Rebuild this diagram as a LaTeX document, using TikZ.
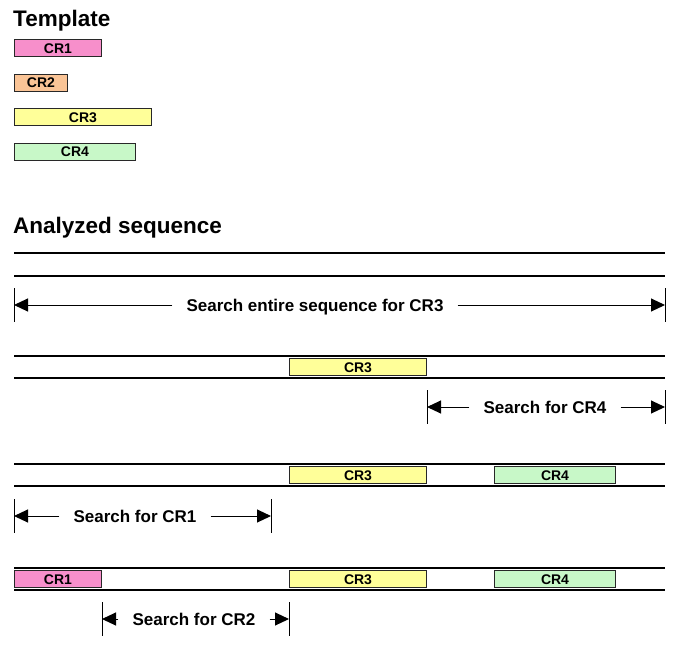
\documentclass[tikz,border=0pt]{standalone}
\usepackage{fontspec}
\setmainfont{Liberation Sans}
\usetikzlibrary{arrows.meta, positioning, calc}
\definecolor{crpink}{RGB}{247,143,203}
\definecolor{crorange}{RGB}{250,196,150}
\definecolor{cryellow}{RGB}{255,255,153}
\definecolor{crgreen}{RGB}{200,248,200}
\definecolor{boxedge}{RGB}{40,40,40}
\tikzset{
  crbox/.style={rectangle, draw=boxedge, line width=1pt, minimum height=17pt,
    inner sep=0pt, anchor=west, text height=10pt, text depth=0pt,
    font=\fontsize{14}{14}\selectfont\bfseries},
  cronebox/.style={crbox, fill=crpink, minimum width=87pt},
  crtwobox/.style={crbox, fill=crorange, minimum width=53pt},
  crthreebox/.style={crbox, fill=cryellow, minimum width=137pt},
  crfourbox/.style={crbox, fill=crgreen, minimum width=121pt},
  headline/.style={anchor=base west, inner sep=0pt,
    font=\fontsize{22.5}{22.5}\selectfont\bfseries},
  seqline/.style={line width=1.5pt},
  tickline/.style={line width=1pt},
  searcharrow/.style={-{Triangle[length=14pt, width=13pt]}, line width=1pt},
  searchlabel/.style={inner xsep=14pt, inner ysep=0pt, text height=12pt,
    text depth=0pt, font=\fontsize{17}{17}\selectfont\bfseries},
}

\begin{document}
\begin{tikzpicture}[x=1pt, y=-1pt]
  \useasboundingbox (0,0) rectangle (685,656);

  % template
  \node[headline] (tmpltitle) at (13,26) {Template};
  \node[cronebox]   (tcr1) at (14,48)    {CR1};
  \node[crtwobox]   (tcr2) at (14,82.5)  {CR2};
  \node[crthreebox] (tcr3) at (14,117)   {CR3};
  \node[crfourbox]  (tcr4) at (14,151.5) {CR4};

  \node[headline] (seqtitle) at (13,233) {Analyzed sequence};

  % step 1: whole sequence
  \draw[seqline] (14,253) -- (665,253);
  \draw[seqline] (14,276) -- (665,276);
  \coordinate (s1l) at (14,305);
  \coordinate (s1r) at (665,305);
  \node[searchlabel] (s1) at (315,305) {Search entire sequence for CR3};
  \draw[tickline] ($(s1l)+(0,-17)$) -- ($(s1l)+(0,17)$);
  \draw[tickline] ($(s1r)+(0,-17)$) -- ($(s1r)+(0,17)$);
  \draw[searcharrow] (s1.west) -- (s1l);
  \draw[searcharrow] (s1.east) -- (s1r);

  % step 2: CR3 found
  \draw[seqline] (14,356) -- (665,356);
  \draw[seqline] (14,378) -- (665,378);
  \node[crthreebox] (a2cr3) at (289,367) {CR3};
  \coordinate (s2l) at (a2cr3.east |- 0,407);
  \coordinate (s2r) at (665,407);
  \node[searchlabel] (s2) at (545,407) {Search for CR4};
  \draw[tickline] ($(s2l)+(0,-17)$) -- ($(s2l)+(0,17)$);
  \draw[tickline] ($(s2r)+(0,-17)$) -- ($(s2r)+(0,17)$);
  \draw[searcharrow] (s2.west) -- (s2l);
  \draw[searcharrow] (s2.east) -- (s2r);

  % step 3: CR4 found
  \draw[seqline] (14,464) -- (665,464);
  \draw[seqline] (14,486) -- (665,486);
  \node[crthreebox] (a3cr3) at (289,475) {CR3};
  \node[crfourbox]  (a3cr4) at (494,475) {CR4};
  \coordinate (s3l) at (14,516);
  \coordinate (s3r) at (271,516);
  \node[searchlabel] (s3) at (135,516) {Search for CR1};
  \draw[tickline] ($(s3l)+(0,-17)$) -- ($(s3l)+(0,17)$);
  \draw[tickline] ($(s3r)+(0,-17)$) -- ($(s3r)+(0,17)$);
  \draw[searcharrow] (s3.west) -- (s3l);
  \draw[searcharrow] (s3.east) -- (s3r);

  % step 4: CR1 found
  \draw[seqline] (14,568) -- (665,568);
  \draw[seqline] (14,590) -- (665,590);
  \node[cronebox]   (a4cr1) at (14,579)  {CR1};
  \node[crthreebox] (a4cr3) at (289,579) {CR3};
  \node[crfourbox]  (a4cr4) at (494,579) {CR4};
  \coordinate (s4l) at (a4cr1.east |- 0,619);
  \coordinate (s4r) at (a4cr3.west |- 0,619);
  \node[searchlabel] (s4) at (194,619) {Search for CR2};
  \draw[tickline] ($(s4l)+(0,-17)$) -- ($(s4l)+(0,17)$);
  \draw[tickline] ($(s4r)+(0,-17)$) -- ($(s4r)+(0,17)$);
  \draw[searcharrow] (s4.west) -- (s4l);
  \draw[searcharrow] (s4.east) -- (s4r);
\end{tikzpicture}
\end{document}
